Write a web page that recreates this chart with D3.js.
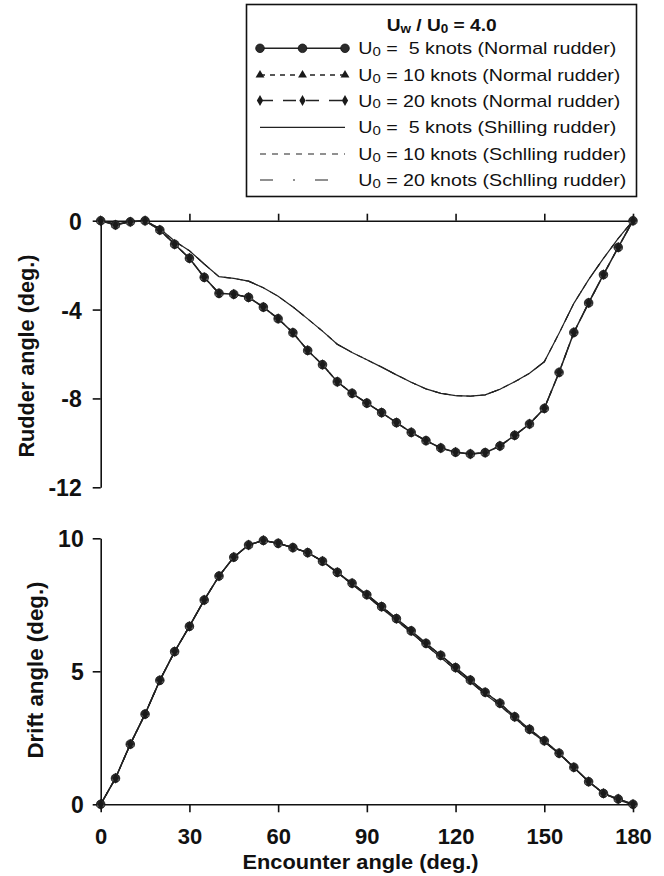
<!DOCTYPE html>
<html><head><meta charset="utf-8">
<script src="https://cdn.jsdelivr.net/npm/d3@7"></script>
<style>
body{margin:0;background:#fff}
svg{display:block;background:#fff}
text{font-family:"Liberation Sans",Arial,Helvetica,sans-serif;fill:#111}
</style>
</head><body>
<svg id="c" width="664" height="876"></svg>
<script>
// ---------- data ----------
const angles = [0,5,10,15,20,25,30,35,40,45,50,55,60,65,70,75,80,85,90,95,100,105,110,115,120,125,130,135,140,145,150,155,160,165,170,175,180];

const rudderNormal5  = [0,-0.19,-0.05,0,-0.42,-1.06,-1.69,-2.55,-3.27,-3.31,-3.45,-3.89,-4.41,-5.04,-5.84,-6.48,-7.25,-7.77,-8.21,-8.64,-9.09,-9.53,-9.90,-10.23,-10.42,-10.50,-10.44,-10.14,-9.66,-9.15,-8.45,-6.83,-5.03,-3.70,-2.43,-1.20,0];
const rudderNormal10 = [0,-0.19,-0.05,0,-0.42,-1.06,-1.69,-2.55,-3.27,-3.31,-3.45,-3.89,-4.41,-5.04,-5.84,-6.48,-7.25,-7.77,-8.21,-8.64,-9.09,-9.53,-9.90,-10.23,-10.42,-10.50,-10.44,-10.14,-9.66,-9.15,-8.45,-6.83,-5.03,-3.70,-2.43,-1.20,0];
const rudderNormal20 = [0,-0.19,-0.05,0,-0.42,-1.06,-1.69,-2.55,-3.27,-3.31,-3.45,-3.89,-4.41,-5.04,-5.84,-6.48,-7.25,-7.77,-8.21,-8.64,-9.09,-9.53,-9.90,-10.23,-10.42,-10.50,-10.44,-10.14,-9.66,-9.15,-8.45,-6.83,-5.03,-3.70,-2.43,-1.20,0];
const rudderSchilling5  = [0,-0.15,-0.04,0,-0.35,-0.92,-1.35,-1.95,-2.52,-2.60,-2.72,-3.02,-3.40,-3.88,-4.42,-4.97,-5.56,-5.93,-6.26,-6.59,-6.94,-7.27,-7.57,-7.77,-7.87,-7.90,-7.84,-7.59,-7.25,-6.87,-6.35,-5.07,-3.72,-2.65,-1.70,-0.80,0];
const rudderSchilling10 = [0,-0.15,-0.04,0,-0.35,-0.92,-1.35,-1.95,-2.52,-2.60,-2.72,-3.02,-3.40,-3.88,-4.42,-4.97,-5.56,-5.93,-6.26,-6.59,-6.94,-7.27,-7.57,-7.77,-7.87,-7.90,-7.84,-7.59,-7.25,-6.87,-6.35,-5.07,-3.72,-2.65,-1.70,-0.80,0];
const rudderSchilling20 = [0,-0.15,-0.04,0,-0.35,-0.92,-1.35,-1.95,-2.52,-2.60,-2.72,-3.02,-3.40,-3.88,-4.42,-4.97,-5.56,-5.93,-6.26,-6.59,-6.94,-7.27,-7.57,-7.77,-7.87,-7.90,-7.84,-7.59,-7.25,-6.87,-6.35,-5.07,-3.72,-2.65,-1.70,-0.80,0];

const driftNormal5  = [0,0.98,2.26,3.39,4.66,5.74,6.69,7.68,8.58,9.29,9.75,9.92,9.81,9.65,9.46,9.14,8.72,8.31,7.88,7.43,6.98,6.52,6.05,5.60,5.14,4.67,4.21,3.80,3.29,2.82,2.39,1.92,1.39,0.85,0.41,0.20,0];
const driftNormal10 = [0,0.98,2.26,3.39,4.66,5.74,6.69,7.68,8.58,9.29,9.75,9.92,9.81,9.65,9.46,9.14,8.72,8.31,7.88,7.43,6.98,6.52,6.05,5.60,5.14,4.67,4.21,3.80,3.29,2.82,2.39,1.92,1.39,0.85,0.41,0.20,0];
const driftNormal20 = [0,0.98,2.26,3.39,4.66,5.74,6.69,7.68,8.58,9.29,9.75,9.92,9.81,9.65,9.46,9.14,8.72,8.31,7.88,7.43,6.98,6.52,6.05,5.60,5.14,4.67,4.21,3.80,3.29,2.82,2.39,1.92,1.39,0.85,0.41,0.20,0];
const driftSchilling5  = [0,0.98,2.26,3.39,4.66,5.74,6.69,7.68,8.58,9.29,9.75,9.92,9.81,9.65,9.46,9.14,8.70,8.27,7.83,7.37,6.92,6.45,5.98,5.52,5.06,4.60,4.14,3.72,3.23,2.77,2.35,1.90,1.38,0.86,0.42,0.15,0];
const driftSchilling10 = [0,0.98,2.26,3.39,4.66,5.74,6.69,7.68,8.58,9.29,9.75,9.92,9.81,9.65,9.46,9.14,8.70,8.27,7.83,7.37,6.92,6.45,5.98,5.52,5.06,4.60,4.14,3.72,3.23,2.77,2.35,1.90,1.38,0.86,0.42,0.15,0];
const driftSchilling20 = [0,0.98,2.26,3.39,4.66,5.74,6.69,7.68,8.58,9.29,9.75,9.92,9.81,9.65,9.46,9.14,8.70,8.27,7.83,7.37,6.92,6.45,5.98,5.52,5.06,4.60,4.14,3.72,3.23,2.77,2.35,1.90,1.38,0.86,0.42,0.15,0];

const xTicks = [0,30,60,90,120,150,180];
const xTopTicks = [30,60,90,120,150,180];
const rudderTicks = [0,-4,-8,-12];
const driftTicks = [0,5,10];

const xLabel = "Encounter angle (deg.)";
const rudderLabel = "Rudder angle (deg.)";
const driftLabel = "Drift angle (deg.)";

const legendRest = [
  " =  5 knots (Normal rudder)",
  " = 10 knots (Normal rudder)",
  " = 20 knots (Normal rudder)",
  " =  5 knots (Shilling rudder)",
  " = 10 knots (Schlling rudder)",
  " = 20 knots (Schlling rudder)"
];

// ---------- layout ----------
const svg = d3.select("#c");
const x = d3.scaleLinear().domain([0,180]).range([100.7,633]);
const yR = d3.scaleLinear().domain([-12,0]).range([487.3,220.7]);
const yD = d3.scaleLinear().domain([0,10]).range([804.3,538.3]);

const styles = [
  {dash:null, marker:d3.symbolCircle, msize:58, w:1.5},
  {dash:"5,5", marker:d3.symbolTriangle, msize:34, w:1.3},
  {dash:"13,10", marker:d3.symbolDiamond, msize:34, w:1.3}
];
const sStyles = [
  {dash:null, w:1.2},
  {dash:"6,6", w:1.1},
  {dash:"13,20,2,20", w:1.1}
];

function axisStyle(g){
  g.selectAll("path.domain").attr("stroke","#111").attr("stroke-width",1.6);
  g.selectAll(".tick line").attr("stroke","#111").attr("stroke-width",1.6);
  g.selectAll("text").attr("font-size",23).attr("font-weight","bold")
    .attr("font-family",'"Liberation Sans",Arial,sans-serif').attr("fill","#111");
}

// top axes
const gTopX = svg.append("g").attr("transform",`translate(0,${yR(0)})`)
  .call(d3.axisTop(x).tickValues(xTopTicks).tickSize(7).tickSizeOuter(0).tickFormat(""));
axisStyle(gTopX);
const gTopY = svg.append("g").attr("transform",`translate(${x(0)},0)`)
  .call(d3.axisLeft(yR).tickValues(rudderTicks).tickSize(8).tickSizeOuter(0).tickPadding(11).tickFormat(d3.format("d")));
axisStyle(gTopY);
gTopY.selectAll("text").attr("dy",null).attr("y",8.5);
gTopY.selectAll("text").text(d=>d===0?"0":String(d).replace("−","-"));

// bottom axes
const gBotX = svg.append("g").attr("transform",`translate(0,${yD(0)})`)
  .call(d3.axisBottom(x).tickValues(xTicks).tickSize(8).tickSizeOuter(0));
axisStyle(gBotX);
gBotX.selectAll("text").attr("font-size",22).attr("dy",null).attr("y",40);
const gBotY = svg.append("g").attr("transform",`translate(${x(0)},0)`)
  .call(d3.axisLeft(yD).tickValues(driftTicks).tickSize(8).tickSizeOuter(0).tickPadding(9));
axisStyle(gBotY);
gBotY.selectAll("text").attr("dy",null).attr("y",8.5);

// axis titles
svg.append("text").attr("x",360.5).attr("y",869).attr("text-anchor","middle")
  .attr("font-size",20).attr("font-weight","bold").attr("textLength",236).attr("lengthAdjust","spacingAndGlyphs").text(xLabel);
svg.append("text").attr("transform","translate(34,356) rotate(-90)").attr("text-anchor","middle")
  .attr("font-size",22).attr("font-weight","bold").attr("textLength",203).attr("lengthAdjust","spacingAndGlyphs").text(rudderLabel);
svg.append("text").attr("transform","translate(43,670) rotate(-90)").attr("text-anchor","middle")
  .attr("font-size",22).attr("font-weight","bold").attr("textLength",177).attr("lengthAdjust","spacingAndGlyphs").text(driftLabel);

// series drawing
function drawSchilling(yScale, seriesList){
  seriesList.forEach((vals,k)=>{
    const line = d3.line().x((d,i)=>x(angles[i])).y(d=>yScale(d));
    svg.append("path").datum(vals).attr("d",line).attr("fill","none")
      .attr("stroke","#222").attr("stroke-width",sStyles[k].w)
      .attr("stroke-dasharray",sStyles[k].dash);
  });
}
function drawNormal(yScale, seriesList){
  seriesList.forEach((vals,k)=>{
    const line = d3.line().x((d,i)=>x(angles[i])).y(d=>yScale(d));
    svg.append("path").datum(vals).attr("d",line).attr("fill","none")
      .attr("stroke","#222").attr("stroke-width",styles[k].w)
      .attr("stroke-dasharray",styles[k].dash);
  });
  seriesList.forEach((vals,k)=>{
    const sym = d3.symbol().type(styles[k].marker).size(styles[k].msize);
    svg.append("g").selectAll("path").data(vals).join("path")
      .attr("transform",(d,i)=>`translate(${x(angles[i])},${yScale(d)})`)
      .attr("d",sym)
      .attr("fill", k===0?"#2b2b2b":(k===1?"#555":"#1a1a1a"))
      .attr("stroke", k===0?"#111":"none").attr("stroke-width",0.8);
  });
}
drawSchilling(yR,[rudderSchilling5,rudderSchilling10,rudderSchilling20]);
drawNormal(yR,[rudderNormal5,rudderNormal10,rudderNormal20]);
drawSchilling(yD,[driftSchilling5,driftSchilling10,driftSchilling20]);
drawNormal(yD,[driftNormal5,driftNormal10,driftNormal20]);

// ---------- legend ----------
const lg = svg.append("g");
lg.append("rect").attr("x",246.5).attr("y",4.5).attr("width",390).attr("height",192)
  .attr("fill","#fff").attr("stroke","#111").attr("stroke-width",1.6);
const title = lg.append("text").attr("x",441.7).attr("y",31).attr("text-anchor","middle")
  .attr("font-size",17).attr("font-weight","bold").attr("textLength",110).attr("lengthAdjust","spacingAndGlyphs");
title.append("tspan").text("U");
title.append("tspan").attr("font-size",12).attr("dy",2).text("w");
title.append("tspan").attr("dy",-2).text(" / U");
title.append("tspan").attr("font-size",12).attr("dy",2).text("0");
title.append("tspan").attr("dy",-2).text(" = 4.0");

const rowY = [48.3,75,100.5,127.3,154,180];
const rowW = [258,262,262,258,268,268];
const sampleX = [260,302.5,345];
legendRest.forEach((rest,i)=>{
  const cy = rowY[i];
  if(i<3){
    const st = styles[i];
    lg.append("line").attr("x1",sampleX[0]).attr("x2",sampleX[2]).attr("y1",cy).attr("y2",cy)
      .attr("stroke","#222").attr("stroke-width",st.w).attr("stroke-dasharray",st.dash);
    const sym = d3.symbol().type(st.marker).size(st.msize);
    sampleX.forEach(sx=>{
      lg.append("path").attr("transform",`translate(${sx},${cy})`).attr("d",sym)
        .attr("fill", i===0?"#2b2b2b":"#1a1a1a").attr("stroke",i===0?"#111":"none").attr("stroke-width",0.8);
    });
  } else {
    const st = sStyles[i-3];
    lg.append("line").attr("x1",sampleX[0]).attr("x2",sampleX[2]).attr("y1",cy).attr("y2",cy)
      .attr("stroke","#222").attr("stroke-width",st.w).attr("stroke-dasharray",st.dash);
  }
  const t = lg.append("text").attr("x",358.3).attr("y",cy+6).attr("font-size",17)
    .attr("textLength",rowW[i]).attr("lengthAdjust","spacingAndGlyphs").style("white-space","pre");
  t.append("tspan").text("U");
  t.append("tspan").attr("font-size",13).attr("dy",1.5).text("0");
  t.append("tspan").attr("dy",-1.5).text(rest);
});
</script>
</body></html>
